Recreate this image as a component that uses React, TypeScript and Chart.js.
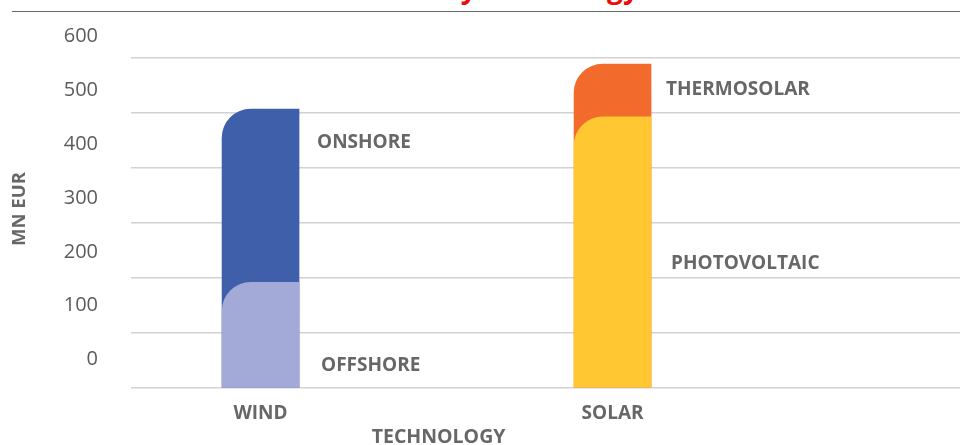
import React, { useEffect, useRef } from "react";
import { Chart, registerables } from "chart.js";

Chart.register(...registerables);

// ---- data ----
const titleText = "Investment by technology";
const categories = ["WIND", "SOLAR"];
const categoryPositions = [1, 2];
const lowerSegmentLabels = ["OFFSHORE", "PHOTOVOLTAIC"];
const lowerSegmentValues = [192, 493];
const upperSegmentLabels = ["ONSHORE", "THERMOSOLAR"];
const upperSegmentValues = [315, 96];
const yTickValues = [0, 100, 200, 300, 400, 500, 600];
const yAxisTitle = "MN EUR";
const xAxisTitle = "TECHNOLOGY";

const TEXT_GREY = "#676767";
const FONT = "'Open Sans', 'DejaVu Sans', sans-serif";

const segmentLabelPlugin = {
  id: "segmentLabels",
  afterDatasetsDraw(chart: any, _args: any, opts: any) {
    const { ctx } = chart;
    const y = chart.scales.y;
    ctx.save();
    ctx.font = opts.font;
    ctx.fillStyle = opts.color;
    ctx.textAlign = "left";
    ctx.textBaseline = "middle";
    for (const it of opts.items || []) {
      const meta = chart.getDatasetMeta(it.datasetIndex);
      const el: any = meta.data[it.index];
      if (!el) continue;
      const names = chart.data.datasets[it.datasetIndex].names;
      const x = el.x + el.width / 2 + it.dx;
      ctx.fillText(names[it.index], x, y.getPixelForValue(it.value));
    }
    ctx.restore();
  },
};

const midTitlePlugin = {
  id: "midAxisTitle",
  afterDraw(chart: any, _args: any, opts: any) {
    const { ctx } = chart;
    const xs = chart.scales.x;
    const mid =
      categoryPositions.reduce((a, b) => a + b, 0) / categoryPositions.length;
    ctx.save();
    ctx.font = opts.font;
    ctx.fillStyle = opts.color;
    ctx.textAlign = "center";
    ctx.textBaseline = "middle";
    ctx.fillText(opts.text, xs.getPixelForValue(mid) + (opts.dx || 0), chart.chartArea.bottom + opts.offsetY);
    ctx.restore();
  },
};

export default function App() {
  const canvasRef = useRef<HTMLCanvasElement | null>(null);

  useEffect(() => {
    document.body.style.margin = "0";
    const canvas = canvasRef.current;
    if (!canvas) return;

    const chart = new Chart(canvas, {
      type: "bar",
      data: {
        datasets: [
          {
            label: "lower",
            names: lowerSegmentLabels,
            data: categoryPositions.map((x, i) => ({ x, y: lowerSegmentValues[i] })),
            backgroundColor: ["#a3aad8", "#ffc832"],
            order: 0,
          } as any,
          {
            label: "upper",
            names: upperSegmentLabels,
            data: categoryPositions.map((x, i) => ({
              x,
              y: lowerSegmentValues[i] + upperSegmentValues[i],
            })),
            backgroundColor: ["#3f5fab", "#f26b2c"],
            order: 1,
          } as any,
        ],
      },
      options: {
        animation: false,
        responsive: true,
        maintainAspectRatio: false,
        layout: { padding: { top: 30, right: 0, bottom: 0, left: 0 } },
        datasets: {
          bar: {
            grouped: false,
            barThickness: 77,
            borderRadius: { topLeft: 29, topRight: 0, bottomLeft: 0, bottomRight: 0 },
            borderWidth: 0,
          },
        } as any,
        scales: {
          x: {
            type: "linear",
            offset: false,
            min: 0.632,
            max: 2.987,
            afterBuildTicks: (s: any) => {
              s.ticks = categoryPositions.map((v) => ({ value: v }));
            },
            afterFit: (s: any) => {
              s.height = 57;
              s.paddingLeft = 0;
              s.paddingRight = 0;
            },
            grid: { display: false, drawTicks: false },
            border: { display: false },
            ticks: {
              padding: 14,
              maxRotation: 0,
              autoSkip: false,
              color: TEXT_GREY,
              font: { family: FONT, size: 19, weight: "700" },
              callback: (v: any) => categories[categoryPositions.indexOf(Number(v))] ?? "",
            },
          },
          y: {
            type: "linear",
            position: "left",
            min: 0,
            max: 650.9,
            afterFit: (s: any) => {
              s.width = 0;
              s.paddingTop = 0;
              s.paddingBottom = 0;
            },
            grid: { color: "#d2d2d2", lineWidth: 1.5, drawTicks: false },
            border: { display: false },
            ticks: { display: false, stepSize: 100, includeBounds: false },
          },
          yLabels: {
            type: "linear",
            position: "left",
            min: -53,
            max: 612.4,
            afterBuildTicks: (s: any) => {
              s.ticks = yTickValues.map((v) => ({ value: v }));
            },
            afterFit: (s: any) => {
              s.width = 131;
              s.paddingTop = 0;
              s.paddingBottom = 0;
            },
            grid: { display: false, drawTicks: false },
            border: { display: false },
            title: {
              display: true,
              text: yAxisTitle,
              color: TEXT_GREY,
              font: { family: FONT, size: 18.5, weight: "700" },
              padding: { top: 9, bottom: 0 },
            },
            ticks: {
              padding: 33,
              color: "#5c5c5c",
              font: { family: FONT, size: 20, weight: "400" },
            },
          },
        } as any,
        plugins: {
          legend: { display: false },
          tooltip: { enabled: false },
          title: { display: false },
          segmentLabels: {
            font: `700 19px ${FONT}`,
            color: TEXT_GREY,
            items: [
              { datasetIndex: 1, index: 0, value: 447, dx: 18 },
              { datasetIndex: 0, index: 0, value: 41, dx: 22 },
              { datasetIndex: 1, index: 1, value: 542, dx: 15 },
              { datasetIndex: 0, index: 1, value: 226, dx: 20 },
            ],
          },
          midAxisTitle: {
            text: xAxisTitle,
            font: `700 19.5px ${FONT}`,
            color: TEXT_GREY,
            offsetY: 49,
            dx: 2,
          },
        } as any,
      },
      plugins: [segmentLabelPlugin, midTitlePlugin],
    });

    return () => chart.destroy();
  }, []);

  return (
    <div
      style={{
        position: "relative",
        width: 960,
        height: 445,
        overflow: "hidden",
        background: "#ffffff",
      }}
    >
      <span
        style={{
          position: "absolute",
          left: 275,
          top: -27,
          fontFamily: FONT,
          fontWeight: 700,
          fontSize: 28,
          lineHeight: "28px",
          color: "#f00a0a",
          whiteSpace: "nowrap",
        }}
      >
        {titleText}
      </span>
      <div
        style={{
          position: "absolute",
          left: 12,
          right: 0,
          top: 11,
          height: 1,
          background: "#666666",
        }}
      />
      <div style={{ position: "absolute", left: 0, top: 0, width: 960, height: 445 }}>
        <canvas ref={canvasRef} />
      </div>
    </div>
  );
}
